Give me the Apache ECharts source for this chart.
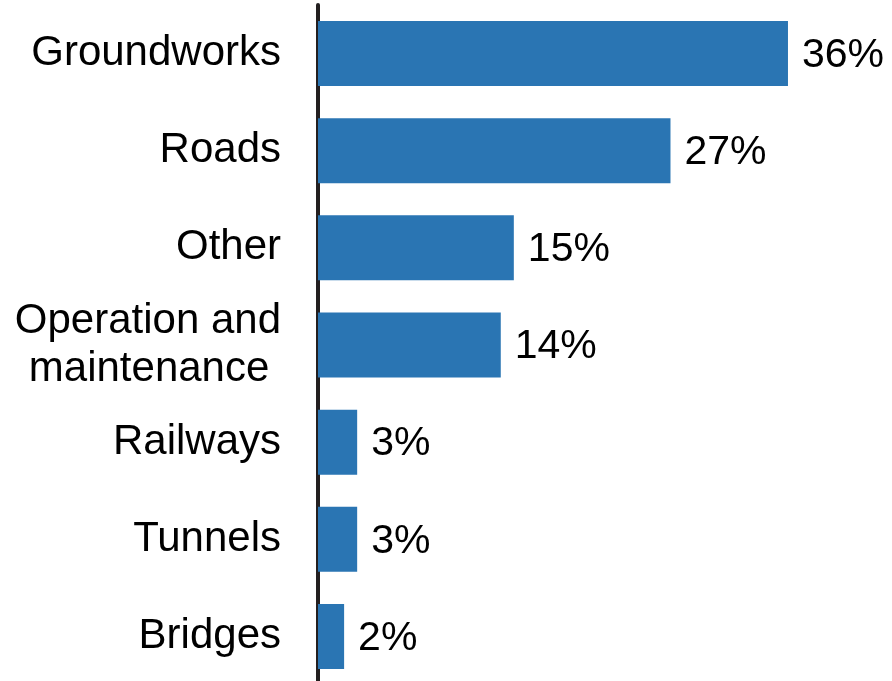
<!DOCTYPE html>
<html>
<head>
<meta charset="utf-8">
<script src="https://cdn.jsdelivr.net/npm/echarts@6/dist/echarts.min.js"></script>
<style>
  html, body { margin: 0; padding: 0; background: #ffffff; overflow: hidden; }
  #chart { width: 892px; height: 700px; }
</style>
</head>
<body>
<div id="chart"></div>
<script>
// Work categories, top to bottom
const categories = [
  'Groundworks',
  'Roads',
  'Other',
  'Operation and\nmaintenance ',
  'Railways',
  'Tunnels',
  'Bridges'
];
// Share of work, percent
const shares = [36, 27, 15, 14, 3, 3, 2];

const chart = echarts.init(document.getElementById('chart'));
chart.setOption({
  animation: false,
  grid: { left: 318, top: 5, width: 522.2, height: 680, containLabel: false },
  xAxis: {
    type: 'value',
    min: 0,
    max: 40,
    show: false
  },
  yAxis: {
    type: 'category',
    inverse: true,
    data: categories,
    axisLine: { show: true, lineStyle: { color: '#231f20', width: 4 } },
    axisTick: { show: false },
    axisLabel: {
      color: '#000000',
      fontFamily: 'Liberation Sans, Arial, sans-serif',
      fontSize: 42,
      lineHeight: 48,
      margin: 37,
      padding: [4, 0, 0, 0],
      align: 'right'
    }
  },
  series: [{
    type: 'bar',
    data: shares,
    barWidth: 65,
    itemStyle: { color: '#2a75b3' },
    label: {
      show: true,
      position: 'right',
      distance: 14,
      offset: [0, 2],
      formatter: '{c}%',
      color: '#000000',
      fontFamily: 'Liberation Sans, Arial, sans-serif',
      fontSize: 41
    }
  }]
});
</script>
</body>
</html>
